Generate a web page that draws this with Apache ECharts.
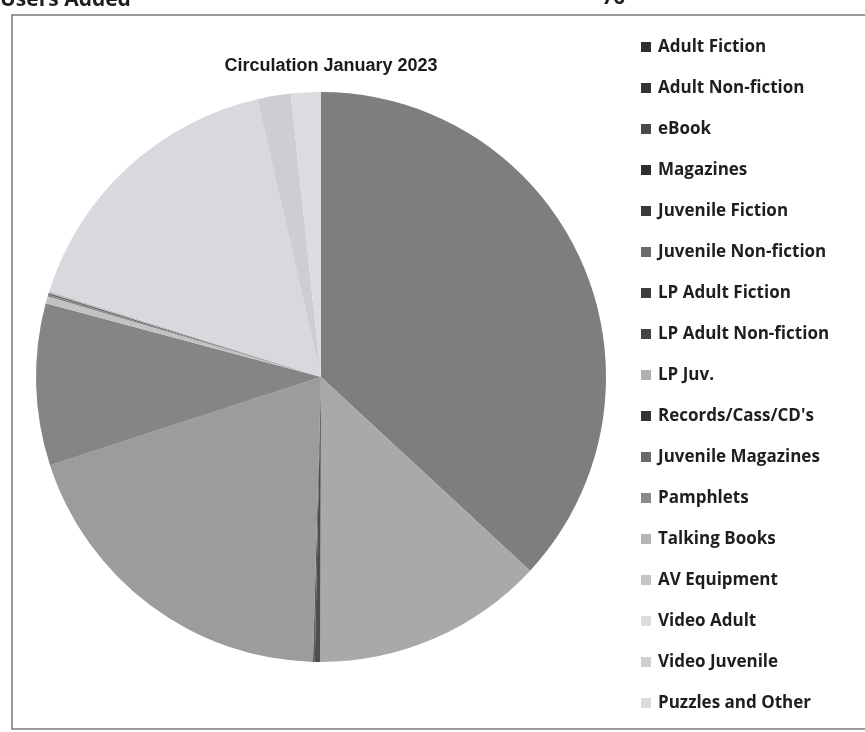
<!DOCTYPE html>
<html>
<head>
<meta charset="utf-8">
<script src="https://cdn.jsdelivr.net/npm/echarts@6/dist/echarts.min.js"></script>
<style>
  html, body { margin: 0; padding: 0; background: #ffffff; }
  #chart { width: 865px; height: 732px; }
</style>
</head>
<body>
<div id="chart"></div>
<script>
// ---- Data (percent of circulation) ----
const categories = [
  "Adult Fiction", "Adult Non-fiction", "eBook", "Magazines", "Juvenile Fiction",
  "Juvenile Non-fiction", "LP Adult Fiction", "LP Adult Non-fiction", "LP Juv.",
  "Records/Cass/CD's", "Juvenile Magazines", "Pamphlets", "Talking Books",
  "AV Equipment", "Video Adult", "Video Juvenile", "Puzzles and Other"
];
const values = [
  37.0, 13.2, 0.3, 0.1, 19.6,
  9.2, 0.4, 0.1, 0,
  0.1, 0, 0, 0.1,
  0, 16.6, 1.9, 1.7
];
const titleText = "Circulation January 2023";

// ---- Styles ----
const sliceColors = [
  "#7e7e7e", "#a9a9a9", "#4e4e4e", "#5a5a5a", "#9c9c9c",
  "#858585", "#c2c2c2", "#8a8a8a", "#b8b8b8",
  "#6a6a6a", "#8e8e8e", "#a4a4a4", "#bcbcbc",
  "#c8c8c8", "#d8d8de", "#cdcdd3", "#dcdce0"
];
const legendColors = [
  "#2e2e2e", "#333333", "#4a4a4a", "#2e2e2e", "#3a3a3a",
  "#6a6a6a", "#3e3e3e", "#444444", "#b0b0b0",
  "#333333", "#6a6a6a", "#8a8a8a", "#b4b4b4",
  "#c4c4c4", "#dedede", "#d0d0d0", "#dcdcdc"
];

const chart = echarts.init(document.getElementById('chart'), null, { renderer: 'canvas' });

const pieData = categories.map((c, i) => ({
  name: c, value: values[i], itemStyle: { color: sliceColors[i] }
}));
const legendData = categories.map((c, i) => ({
  name: c, itemStyle: { color: legendColors[i] }
}));

chart.setOption({
  backgroundColor: '#ffffff',
  animation: false,
  title: {
    text: titleText,
    left: 326, top: 52, textAlign: 'center',
    textStyle: { fontFamily: 'Liberation Sans', fontWeight: 'bold', fontSize: 18, color: '#1a1a1a' }
  },
  legend: {
    orient: 'vertical',
    left: 636, top: 33,
    itemWidth: 10, itemHeight: 10,
    itemGap: 23,
    icon: 'rect',
    data: legendData,
    selectedMode: false,
    textStyle: { fontFamily: 'Open Sans', fontWeight: 'bold', fontSize: 17, color: '#1e1e1e', lineHeight: 18, padding: [0, 0, 0, 2] }
  },
  graphic: [
    { type: 'rect', shape: { x: 12, y: 15, width: 880, height: 714 }, style: { fill: 'none', stroke: '#7a7a7a', lineWidth: 1.5 }, silent: true },
    { type: 'text', left: 0, top: -10, style: { text: 'Users Added', font: 'bold 21px "Open Sans"', fill: '#1e1e1e' }, silent: true },
    { type: 'text', left: 602, top: -12, style: { text: '76', font: 'bold 20px "Open Sans"', fill: '#1e1e1e' }, silent: true }
  ],
  series: [{
    type: 'pie',
    center: [321, 377],
    radius: 285,
    startAngle: 90,
    clockwise: true,
    avoidLabelOverlap: false,
    label: { show: false },
    labelLine: { show: false },
    emphasis: { disabled: true },
    itemStyle: { borderWidth: 0 },
    data: pieData
  }]
});
</script>
</body>
</html>
